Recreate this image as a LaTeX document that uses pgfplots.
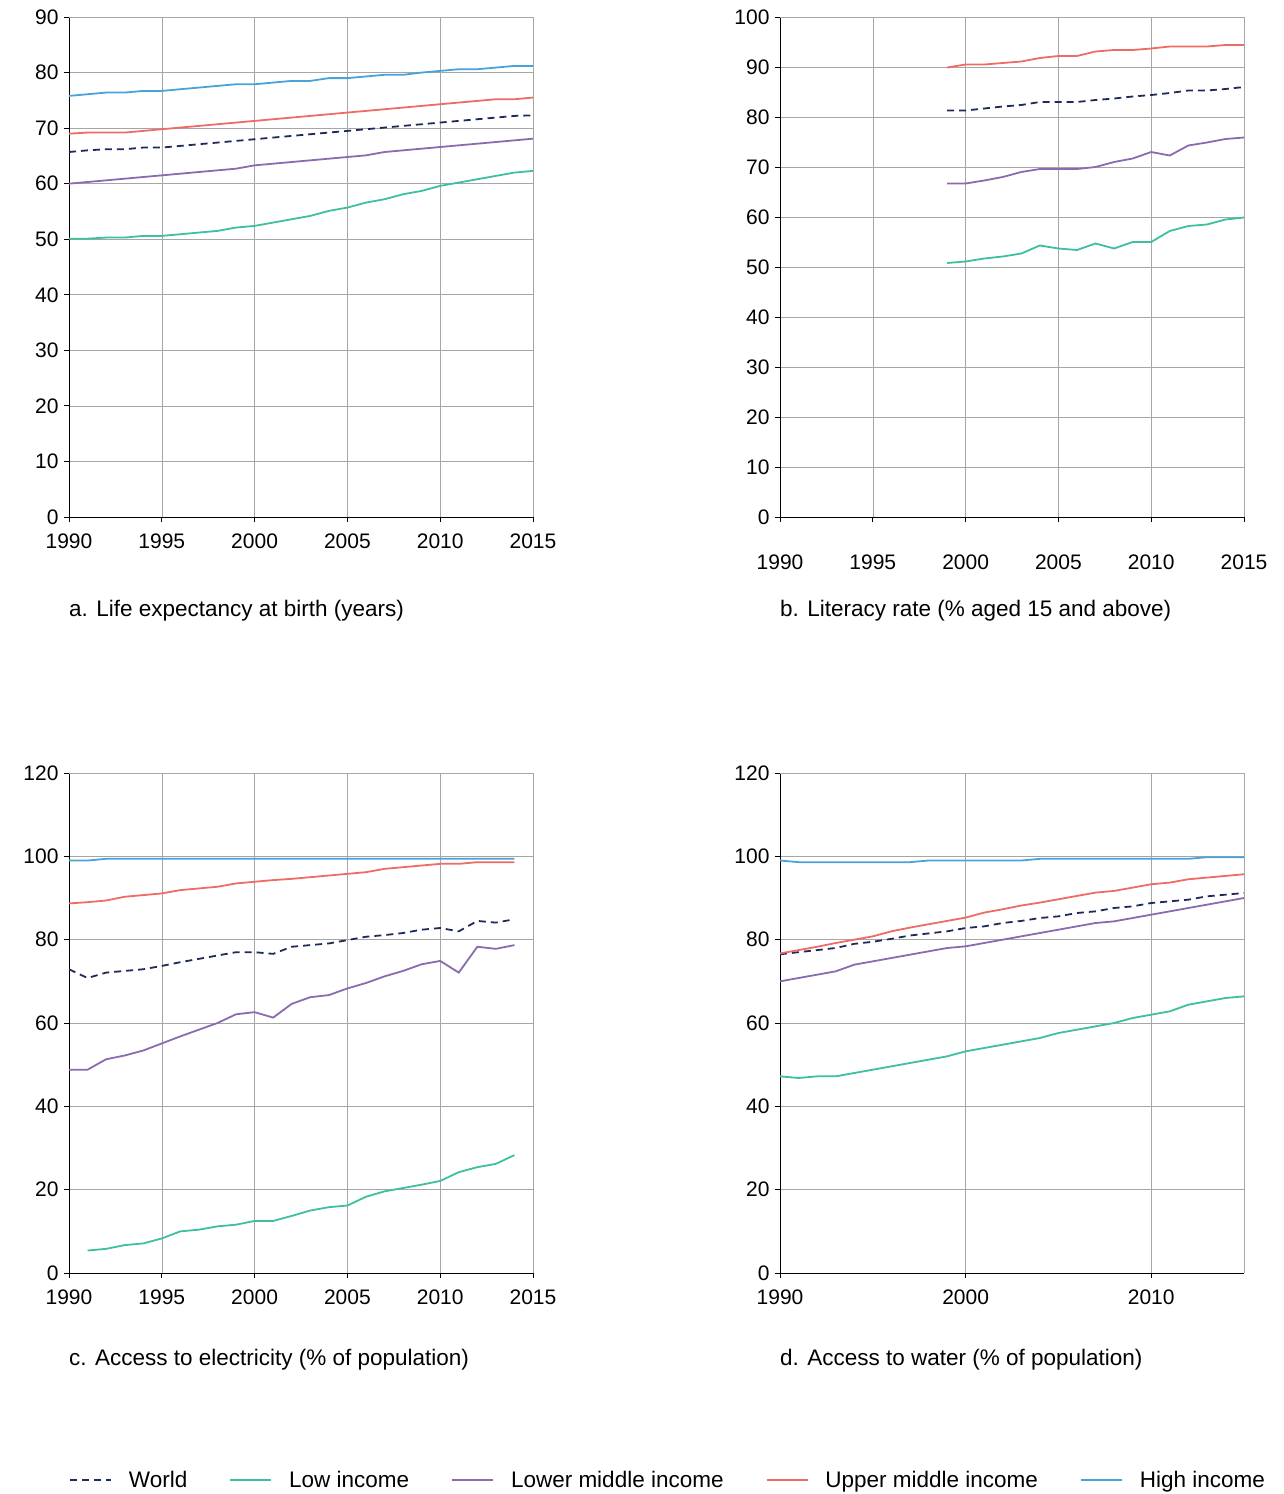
\documentclass[border=0pt]{standalone}
\usepackage{pgfplots}
\pgfplotsset{compat=1.18}
\usepackage{pgfplotstable}
\usepackage{fontspec}
\setmainfont{Liberation Sans}
\definecolor{cw}{HTML}{1F2A5A}
\definecolor{clow}{HTML}{3DBFA0}
\definecolor{clm}{HTML}{8A6BB0}
\definecolor{cum}{HTML}{EF6B66}
\definecolor{chi}{HTML}{4AA3D8}
\pgfplotstableread{
yr world low lm um hi
1990 65.7 50.1 60.0 69.0 75.8
1991 66.0 50.1 60.3 69.2 76.1
1992 66.2 50.3 60.6 69.2 76.4
1993 66.2 50.3 60.9 69.2 76.4
1994 66.5 50.6 61.2 69.5 76.7
1995 66.5 50.6 61.5 69.8 76.7
1996 66.8 50.9 61.8 70.1 77.0
1997 67.1 51.2 62.1 70.4 77.3
1998 67.4 51.5 62.4 70.7 77.6
1999 67.7 52.1 62.7 71.0 77.9
2000 68.0 52.4 63.3 71.3 77.9
2001 68.3 53.0 63.6 71.6 78.2
2002 68.6 53.6 63.9 71.9 78.5
2003 68.9 54.2 64.2 72.2 78.5
2004 69.2 55.1 64.5 72.5 79.0
2005 69.5 55.7 64.8 72.8 79.0
2006 69.8 56.6 65.1 73.1 79.3
2007 70.1 57.2 65.7 73.4 79.6
2008 70.4 58.1 66.0 73.7 79.6
2009 70.7 58.7 66.3 74.0 80.0
2010 71.0 59.6 66.6 74.3 80.3
2011 71.3 60.2 66.9 74.6 80.6
2012 71.6 60.8 67.2 74.9 80.6
2013 71.9 61.4 67.5 75.2 80.9
2014 72.2 62.0 67.8 75.2 81.2
2015 72.3 62.3 68.1 75.5 81.2
}\ta
\pgfplotstableread{
yr world low lm um
1999 81.3 50.8 66.7 89.9
2000 81.3 51.1 66.7 90.5
2001 81.7 51.7 67.3 90.5
2002 82.1 52.1 68.0 90.8
2003 82.4 52.7 69.0 91.1
2004 83.0 54.3 69.6 91.8
2005 83.0 53.7 69.6 92.2
2006 83.0 53.4 69.6 92.2
2007 83.4 54.7 70.0 93.1
2008 83.7 53.7 71.0 93.4
2009 84.1 55.0 71.7 93.4
2010 84.4 55.0 73.0 93.7
2011 84.8 57.2 72.3 94.1
2012 85.3 58.2 74.3 94.1
2013 85.3 58.5 74.9 94.1
2014 85.6 59.5 75.6 94.4
2015 86.0 59.9 75.9 94.4
}\tb
\pgfplotstableread{
yr world low lm um hi
1990 72.9 nan 48.8 88.7 99.0
1991 70.8 5.4 48.8 89.0 99.0
1992 72.1 5.8 51.3 89.4 99.4
1993 72.5 6.7 52.2 90.3 99.4
1994 72.9 7.1 53.4 90.7 99.4
1995 73.7 8.3 55.1 91.1 99.4
1996 74.6 10.0 56.8 91.9 99.4
1997 75.4 10.4 58.4 92.3 99.4
1998 76.2 11.2 60.0 92.7 99.4
1999 77.0 11.6 62.1 93.5 99.4
2000 77.0 12.5 62.6 93.9 99.4
2001 76.6 12.5 61.3 94.3 99.4
2002 78.3 13.7 64.6 94.6 99.4
2003 78.7 15.0 66.2 95.0 99.4
2004 79.1 15.8 66.7 95.4 99.4
2005 79.9 16.2 68.3 95.8 99.4
2006 80.7 18.3 69.6 96.2 99.4
2007 81.1 19.6 71.2 97.0 99.4
2008 81.6 20.4 72.5 97.4 99.4
2009 82.4 21.2 74.1 97.8 99.4
2010 82.8 22.1 74.9 98.2 99.4
2011 82.0 24.2 72.1 98.2 99.4
2012 84.5 25.4 78.3 98.6 99.4
2013 84.1 26.2 77.8 98.6 99.4
2014 84.9 28.3 78.7 98.6 99.4
}\tc
\pgfplotstableread{
yr world low lm um hi
1990 76.5 47.2 70.0 76.7 99.0
1991 77.0 46.8 70.8 77.5 98.6
1992 77.5 47.2 71.6 78.3 98.6
1993 78.0 47.2 72.4 79.2 98.6
1994 79.0 48.0 74.0 80.0 98.6
1995 79.5 48.8 74.8 80.8 98.6
1996 80.2 49.6 75.6 82.0 98.6
1997 81.0 50.4 76.4 82.9 98.6
1998 81.5 51.2 77.2 83.7 99.0
1999 82.0 52.0 78.0 84.5 99.0
2000 82.8 53.2 78.4 85.3 99.0
2001 83.2 54.0 79.2 86.5 99.0
2002 84.0 54.8 80.0 87.3 99.0
2003 84.5 55.6 80.8 88.2 99.0
2004 85.2 56.4 81.6 88.9 99.4
2005 85.6 57.6 82.4 89.7 99.4
2006 86.4 58.4 83.2 90.5 99.4
2007 86.8 59.2 84.0 91.3 99.4
2008 87.6 60.0 84.4 91.7 99.4
2009 88.0 61.2 85.2 92.5 99.4
2010 88.8 62.0 86.0 93.3 99.4
2011 89.2 62.8 86.8 93.7 99.4
2012 89.6 64.4 87.6 94.5 99.4
2013 90.4 65.2 88.4 94.9 99.8
2014 90.8 66.0 89.2 95.3 99.8
2015 91.2 66.4 90.0 95.7 99.8
}\td
\newcommand\fs{\fontsize{21}{25}\selectfont}
\newcommand\fc{\fontsize{22.5}{27}\selectfont}
\pgfplotsset{
 panel/.style={scale only axis, width=464pt, height=500pt, anchor=south west,
  axis lines*=left, grid=major, grid style={gray!70, line width=0.6pt},
  axis line style={black, line width=0.8pt}, tick style={black, line width=0.8pt},
  tick align=outside, major tick length=5pt,
  ticklabel style={font=\fs},
  /pgf/number format/assume math mode=true,
  xticklabel style={/pgf/number format/1000 sep={}, yshift=-8pt},
  yticklabel style={xshift=-2pt},
  xmin=1990, xmax=2015, ymin=0, unbounded coords=jump,
  after end axis/.code={\draw[gray!70, line width=0.6pt] (rel axis cs:0,1)--(rel axis cs:1,1)--(rel axis cs:1,0);},
 },
 sw/.style={cw, dashed, dash pattern=on 7pt off 5pt, line width=1.8pt},
 sl/.style={clow, line width=1.8pt},
 slm/.style={clm, line width=1.8pt},
 sum/.style={cum, line width=1.8pt},
 shi/.style={chi, line width=1.8pt},
}
\begin{document}
\begin{tikzpicture}
\path (0,0) rectangle (1284pt,-1494pt);
\begin{axis}[panel, at={(69pt,-517pt)}, ymax=90, ytick={0,10,...,90}, xtick={1990,1995,...,2015}]
\addplot[sw] table[y=world]{\ta};
\addplot[sl] table[y=low]{\ta};
\addplot[slm] table[y=lm]{\ta};
\addplot[sum] table[y=um]{\ta};
\addplot[shi] table[y=hi]{\ta};
\end{axis}
\node[anchor=base west, font=\fc, inner sep=0pt] at (69pt,-616pt) {a. Life expectancy at birth (years)};
\begin{axis}[panel, at={(780pt,-517pt)}, ymax=100, ytick={0,10,...,100}, xtick={1990,1995,...,2015}, xticklabel style={yshift=-21pt}]
\addplot[sw] table[y=world]{\tb};
\addplot[sl] table[y=low]{\tb};
\addplot[slm] table[y=lm]{\tb};
\addplot[sum] table[y=um]{\tb};
\end{axis}
\node[anchor=base west, font=\fc, inner sep=0pt] at (780pt,-616pt) {b. Literacy rate (\% aged 15 and above)};
\begin{axis}[panel, at={(69pt,-1273pt)}, ymax=120, ytick={0,20,...,120}, xtick={1990,1995,...,2015},
 legend columns=5, legend style={at={(0,-0.414)}, anchor=west, draw=none, fill=none, inner sep=0pt,
 font=\fc, /tikz/every even column/.append style={column sep=40pt},
 /tikz/every odd column/.append style={column sep=15pt}},
 legend image code/.code={\draw[#1] (0pt,0pt) -- (41pt,0pt);}]
\addplot[sw] table[y=world]{\tc};
\addplot[sl] table[y=low]{\tc};
\addplot[slm] table[y=lm]{\tc};
\addplot[sum] table[y=um]{\tc};
\addplot[shi] table[y=hi]{\tc};
\legend{World, Low income, Lower middle income, Upper middle income, High income}
\end{axis}
\node[anchor=base west, font=\fc, inner sep=0pt] at (69pt,-1365pt) {c. Access to electricity (\% of population)};
\begin{axis}[panel, at={(780pt,-1273pt)}, ymax=120, ytick={0,20,...,120}, xtick={1990,2000,2010}]
\addplot[sw] table[y=world]{\td};
\addplot[sl] table[y=low]{\td};
\addplot[slm] table[y=lm]{\td};
\addplot[sum] table[y=um]{\td};
\addplot[shi] table[y=hi]{\td};
\end{axis}
\node[anchor=base west, font=\fc, inner sep=0pt] at (780pt,-1365pt) {d. Access to water (\% of population)};
\end{tikzpicture}
\end{document}
